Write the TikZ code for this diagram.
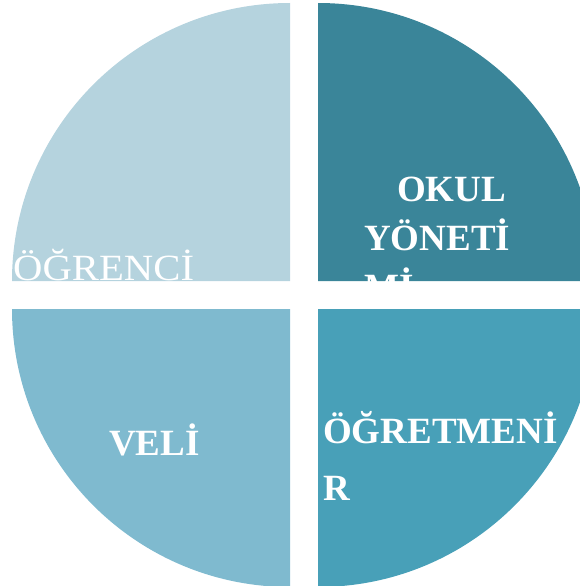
\documentclass[tikz,border=0pt]{standalone}
\usepackage{fontspec}
\setmainfont{Liberation Serif}
\usetikzlibrary{positioning}
\definecolor{ogrenci}{HTML}{B5D3DE}
\definecolor{yonetim}{HTML}{3A8599}
\definecolor{veli}{HTML}{7FBACF}
\definecolor{ogretmen}{HTML}{48A0B8}

\begin{document}
\begin{tikzpicture}[x=1pt, y=-1pt,
  part/.style={draw=none},
  role/.style={text=white, font=\fontsize{37}{49}\selectfont\bfseries,
               inner sep=0pt, anchor=base west, align=left}
]
  \clip (0,0) rectangle (580,586);

  % Quadrants
  \fill[part, ogrenci] (290,281) -- (12,281)
    arc[start angle=180, end angle=270, radius=278] -- cycle;
  \fill[part, yonetim] (318,281) -- (318,3)
    arc[start angle=270, end angle=360, radius=278] -- cycle;
  \fill[part, veli] (290,309) -- (290,587)
    arc[start angle=90, end angle=180, radius=278] -- cycle;
  \fill[part, ogretmen] (318,309) -- (596,309)
    arc[start angle=0, end angle=90, radius=278] -- cycle;

  % Labels (base = last line)
  \node[role, font=\fontsize{37}{40}\selectfont] (ogr) at (13,280)
    {\scalebox{1.1}[1]{ÖĞRENCİ}};
  \node[role] (okul) at (364,299) {\hspace*{33pt}OKUL\\YÖNETİ\\Mİ};
  \node[role] (veliT) at (109,455) {VELİ};
  \node[role] (ogrt) at (323,500) {ÖĞRETMENİ\\[8pt]R};
\end{tikzpicture}
\end{document}
